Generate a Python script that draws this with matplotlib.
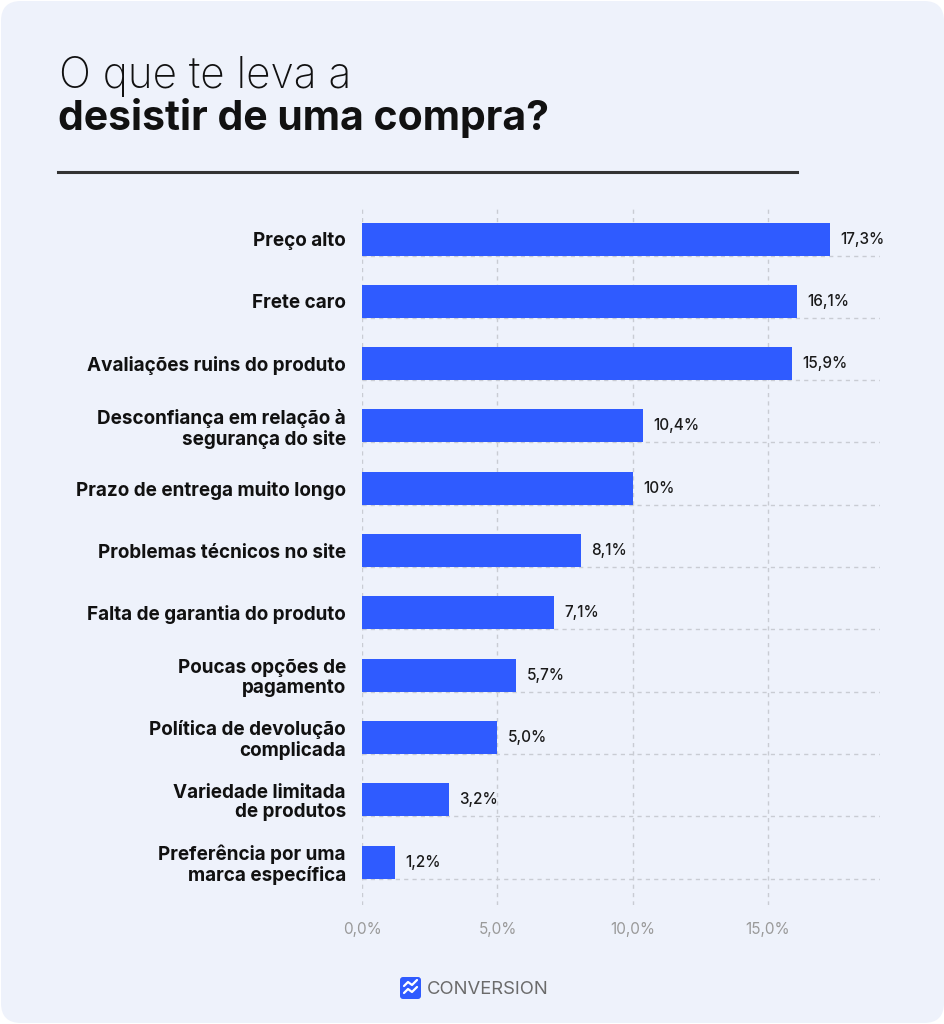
import numpy as np
import matplotlib
matplotlib.use('Agg')
import matplotlib.pyplot as plt
from matplotlib.patches import FancyBboxPatch
from matplotlib.lines import Line2D

# data
categories = [
    'Preço alto',
    'Frete caro',
    'Avaliações ruins do produto',
    'Desconfiança em relação à\nsegurança do site',
    'Prazo de entrega muito longo',
    'Problemas técnicos no site',
    'Falta de garantia do produto',
    'Poucas opções de\npagamento',
    'Política de devolução\ncomplicada',
    'Variedade limitada\nde produtos',
    'Preferência por uma\nmarca específica',
]
values = [17.3, 16.1, 15.9, 10.4, 10.0, 8.1, 7.1, 5.7, 5.0, 3.2, 1.2]
value_labels = ['17,3%', '16,1%', '15,9%', '10,4%', '10%', '8,1%', '7,1%',
                '5,7%', '5,0%', '3,2%', '1,2%']
xticks = [0, 5, 10, 15]
xtick_labels = ['0,0%', '5,0%', '10,0%', '15,0%']

BG = '#EEF2FB'
BAR = '#2F5BFF'
FONT = ['Inter', 'DejaVu Sans']

plt.rcParams['font.family'] = FONT

W, H = 945, 1024
fig = plt.figure(figsize=(W / 100, H / 100), dpi=100, facecolor='white')

# rounded card behind everything
card = FancyBboxPatch((0.01, 0.01), W / 100 - 0.02, H / 100 - 0.02,
                      boxstyle='round,pad=0,rounding_size=0.2',
                      transform=fig.dpi_scale_trans, facecolor=BG,
                      edgecolor='none', zorder=-10)
fig.patches.append(card)


def px(x, y):
    """pixel (from top-left) -> figure fraction"""
    return x / W, 1 - y / H


# ── title ─────────────────────────────────────────────
fig.text(*px(59, 88), 'O que te leva a', fontsize=30.5, fontweight='light',
         color='#111111', va='baseline', ha='left')
fig.text(*px(58, 130), 'desistir de uma compra?', fontsize=29.5,
         fontweight='bold', color='#111111', va='baseline', ha='left')
fig.add_artist(Line2D([58 / W, 797 / W], [1 - 172 / H, 1 - 172 / H],
                      transform=fig.transFigure, color='#333333', lw=2.2))

# ── bars ──────────────────────────────────────────────
left, right = 362.5, 880
top, bottom = 207, 905
ax = fig.add_axes([left / W, 1 - bottom / H, (right - left) / W, (bottom - top) / H])
ax.set_facecolor('none')

y = np.arange(len(categories))
bar_h = 0.53
ax.barh(y, values, height=bar_h, color=BAR, zorder=3)

xmax = (right - left) / 27.0
ax.set_xlim(0, xmax)
ax.set_ylim(len(categories) - 1 + 0.69, -0.514)

# dashed grid: vertical at ticks, horizontal under each bar
for xv in xticks:
    ax.axvline(xv, color='#C9CCD3', lw=1, ls=(0, (3, 3)), zorder=1)
ax.hlines(y + bar_h / 2, 0, xmax, color='#C9CCD3', lw=1, ls=(0, (3, 3)), zorder=1)

for yi, v, lab in zip(y, values, value_labels):
    ax.annotate(lab, (v, yi), xytext=(7.5, 0), textcoords='offset points',
                va='center', ha='left', fontsize=11, fontweight='medium',
                color='#1A1A1A')

ax.set_xticks(xticks)
ax.set_xticklabels(xtick_labels, fontsize=11, color='#9A9A9A')
ax.set_yticks(y)
ax.set_yticklabels(categories, fontsize=13.6, fontweight='bold', color='#111111')
for lbl in ax.get_yticklabels():
    lbl.set_multialignment('right')
    lbl.set_linespacing(1.12)
ax.tick_params(axis='x', length=0, pad=12)
ax.tick_params(axis='y', length=0, pad=12)
for s in ax.spines.values():
    s.set_visible(False)

# ── logo ──────────────────────────────────────────────
icon = FancyBboxPatch((4.0, (H - 999) / 100), 0.21, 0.22,
                      boxstyle='round,pad=0,rounding_size=0.03',
                      transform=fig.dpi_scale_trans, facecolor=BAR,
                      edgecolor='none')
fig.patches.append(icon)
for dy in (0.0, -0.07):
    xs = np.array([0.04, 0.08, 0.12, 0.17]) + 4.0
    ys = np.array([0.11, 0.15, 0.12, 0.17]) + (H - 999) / 100 + 0.02 + dy
    fig.add_artist(Line2D(xs, ys, transform=fig.dpi_scale_trans,
                          color='white', lw=1.6, solid_capstyle='round'))
fig.text(*px(427, 989), 'CONVERSION', fontsize=13.3, color='#6B6B6B',
         va='center', ha='left')

fig.savefig('out.png', dpi=100, facecolor='white')
